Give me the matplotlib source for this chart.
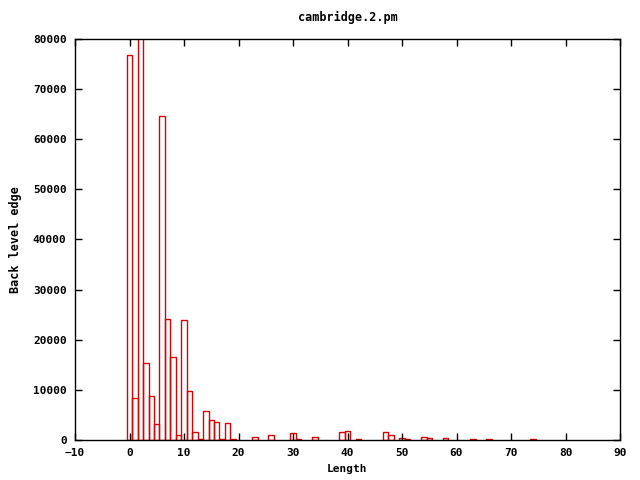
import matplotlib
matplotlib.use('Agg')
import matplotlib.pyplot as plt

# length -> count (bar at x=2 goes off the top of the plot)
lengths = [0, 1, 2, 3, 4, 5, 6, 7, 8, 9, 10, 11, 12, 13, 14, 15, 16, 17, 18, 19,
           23, 26, 30, 31, 34, 39, 40, 42, 47, 48, 50, 51, 54, 55, 58, 63, 66, 74]
counts = [76900, 8400, 95000, 15400, 8800, 3200, 64600, 24100, 16500, 1000,
          23900, 9800, 1600, 200, 5750, 3950, 3550, 200, 3350, 200,
          550, 1000, 1400, 200, 550, 1600, 1800, 150, 1550, 1000,
          350, 200, 530, 330, 330, 200, 200, 200]

xticks = list(range(-10, 91, 10))
yticks = list(range(0, 80001, 10000))

plt.rcParams['font.family'] = ['DejaVu Sans Mono']
plt.rcParams['font.weight'] = 'bold'
plt.rcParams['font.size'] = 8

fig = plt.figure(figsize=(6.4, 4.8), dpi=100)
ax = fig.add_axes([75/640, 40/480, 545/640, 401/480])
ax.bar(lengths, counts, width=1.0, align='center', fill=False,
       edgecolor='#dd0000', linewidth=1.0)
ax.set_xlim(-10, 90)
ax.set_ylim(0, 80000)
ax.set_xticks(xticks)
ax.set_yticks(yticks)
ax.tick_params(direction='in', top=True, right=True, length=5, width=1, pad=6)
for s in ax.spines.values():
    s.set_linewidth(1)
ax.set_title('cambridge.2.pm', fontsize=8.5, fontweight='bold', pad=13)
ax.set_xlabel('Length', fontsize=8, fontweight='bold', labelpad=4)
ax.set_ylabel('Back level edge', fontsize=8.5, fontweight='bold', labelpad=8)
fig.savefig('out.png', dpi=100)
plt.close(fig)
